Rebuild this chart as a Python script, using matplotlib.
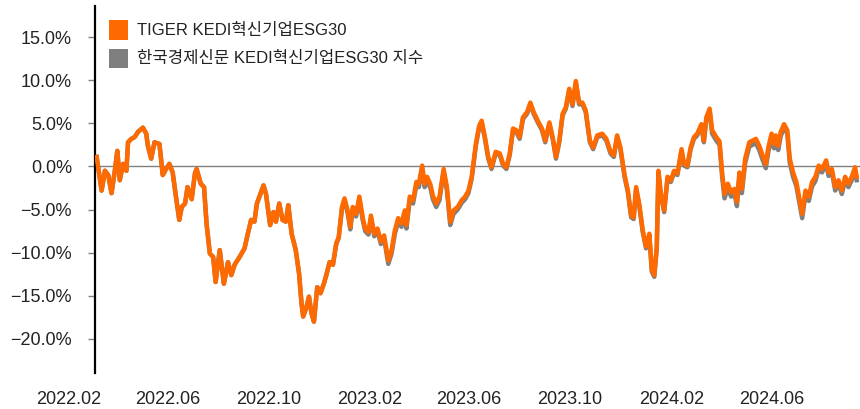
import matplotlib
matplotlib.use("Agg")
import matplotlib.pyplot as plt
from matplotlib.patches import Rectangle
from matplotlib.transforms import blended_transform_factory
import pandas as pd

plt.rcParams['font.family'] = ['Liberation Sans', 'Noto Sans CJK KR', 'DejaVu Sans']

# ---- data ----
start_date = "2022-03-07"
days = [0, 6, 10, 14, 18, 22, 25, 28, 32, 36, 38, 42, 46, 50, 56, 60, 62, 66, 70, 76,
        80, 84, 88, 92, 96, 100, 103, 107, 110, 115, 119, 121, 126, 130, 133, 137, 141, 144, 149, 154,
        159, 163, 167, 173, 179, 183, 187, 191, 194, 197, 202, 205, 210, 214, 217, 221, 225, 229, 232, 236,
        241, 245, 248, 250, 254, 257, 260, 263, 267, 271, 275, 278, 282, 286, 290, 293, 297, 300, 304, 307,
        310, 314, 318, 322, 325, 329, 332, 336, 340, 344, 348, 351, 353, 357, 361, 365, 369, 373, 375, 379,
        383, 387, 390, 394, 397, 400, 404, 407, 411, 415, 420, 424, 428, 432, 437, 442, 446, 450, 454, 459,
        463, 466, 470, 474, 478, 483, 488, 492, 496, 500, 504, 508, 512, 516, 521, 525, 529, 534, 539, 543,
        548, 552, 556, 560, 564, 568, 572, 576, 580, 584, 588, 592, 597, 601, 606, 612, 617, 622, 626, 630,
        634, 639, 643, 647, 650, 653, 657, 661, 665, 669, 672, 675, 678, 680, 683, 687, 691, 695, 699, 703,
        708, 711, 715, 719, 723, 727, 732, 735, 738, 742, 745, 750, 754, 757, 760, 764, 768, 772, 775, 778,
        781, 785, 790, 794, 798, 802, 806, 810, 813, 817, 820, 822, 825, 828, 832, 836, 839, 843, 847, 851,
        854, 858, 862, 866, 870, 874, 878, 883, 886, 890, 894, 898, 902, 906, 910, 914, 918, 920]

tiger_etf = [1.1, -2.8, -0.5, -1.0, -3.1, -0.5, 1.8, -1.6, 0.3, -0.5, 2.8, 3.2, 3.4, 4.0, 4.5, 3.8, 2.4, 0.9, 2.8, 2.6,
             -1.0, -0.3, 0.3, -0.7, -3.5, -6.2, -4.7, -4.3, -2.4, -3.8, -0.8, -0.3, -2.0, -2.4, -6.6, -10.1, -10.5, -13.4, -9.7, -13.6,
             -11.1, -12.6, -11.4, -10.5, -9.5, -7.8, -6.2, -6.4, -4.3, -3.5, -2.2, -3.2, -6.8, -5.3, -6.4, -4.3, -6.2, -6.4, -4.5, -7.8,
             -9.7, -12.4, -15.9, -17.4, -16.3, -15.1, -17.0, -18.0, -14.0, -14.7, -13.6, -12.6, -11.1, -11.4, -8.9, -8.2, -4.7, -3.7, -5.2, -7.0,
             -4.7, -5.5, -3.5, -5.9, -7.2, -7.6, -5.7, -7.8, -7.2, -8.7, -8.0, -9.7, -10.9, -9.7, -7.4, -6.0, -6.6, -5.1, -6.8, -3.5,
             -3.9, -1.8, -2.0, 0.1, -2.0, -1.2, -2.1, -3.4, -4.3, -3.5, -0.3, -2.4, -6.4, -5.1, -4.7, -3.9, -3.5, -2.8, -1.2, 2.6,
             4.7, 5.3, 3.4, 1.1, -0.1, 1.7, 1.5, 0.3, -0.1, 1.5, 4.4, 4.2, 3.4, 5.7, 6.3, 7.4, 6.3, 5.3, 4.4, 3.0,
             5.1, 3.4, 1.1, 3.0, 6.1, 6.9, 9.0, 7.2, 9.9, 7.4, 7.4, 6.5, 3.0, 2.2, 3.6, 3.8, 3.2, 1.7, 1.3, 3.6,
             2.2, -1.0, -2.8, -5.7, -5.9, -2.4, -4.5, -7.4, -9.3, -7.8, -12.0, -12.6, -9.3, -0.5, -3.2, -5.1, -1.2, -1.6, -0.5, -0.8,
             2.0, 0.3, 0.1, 2.2, 3.4, 3.8, 4.9, 3.0, 5.7, 6.7, 4.2, 3.4, 2.9, -0.6, -3.2, -2.0, -3.0, -2.6, -4.1, -0.7,
             -2.6, 0.9, 2.8, 3.0, 3.2, 2.4, 1.3, 0.3, 2.2, 3.8, 2.6, 3.6, 2.4, 4.0, 4.9, 4.2, 0.9, -0.7, -1.8, -3.9,
             -5.5, -2.8, -3.5, -1.8, -1.2, 0.1, -0.3, 0.7, -0.7, -0.3, -2.4, -1.6, -2.8, -1.2, -2.0, -1.2, -0.1, -1.2]

kedi_index = [1.1, -2.8, -0.5, -1.0, -3.1, -0.5, 1.8, -1.6, 0.3, -0.5, 2.8, 3.2, 3.4, 4.0, 4.5, 3.8, 2.4, 0.9, 2.8, 2.6,
              -1.0, -0.3, 0.3, -0.7, -3.5, -6.2, -4.7, -4.3, -2.4, -3.8, -0.8, -0.3, -2.0, -2.4, -6.6, -10.1, -10.5, -13.4, -9.7, -13.6,
              -11.1, -12.6, -11.4, -10.5, -9.5, -7.8, -6.2, -6.4, -4.3, -3.5, -2.2, -3.2, -6.8, -5.3, -6.4, -4.3, -6.2, -6.4, -4.5, -7.8,
              -9.7, -12.4, -15.9, -17.4, -16.3, -15.1, -17.0, -18.0, -14.0, -14.7, -13.6, -12.6, -11.1, -11.4, -9.0, -8.3, -4.8, -3.9, -5.5, -7.3,
              -5.0, -5.8, -3.8, -6.2, -7.5, -7.9, -6.0, -8.1, -7.5, -9.0, -8.4, -10.1, -11.3, -10.1, -7.8, -6.4, -7.0, -5.5, -7.2, -3.9,
              -4.3, -2.2, -2.4, -0.2, -2.4, -1.6, -2.5, -3.8, -4.7, -3.9, -0.6, -2.8, -6.8, -5.5, -5.0, -4.2, -3.8, -3.1, -1.4, 2.4,
              4.5, 5.1, 3.2, 0.9, -0.3, 1.5, 1.3, 0.1, -0.3, 1.3, 4.2, 4.0, 3.2, 5.5, 6.1, 7.2, 6.1, 5.1, 4.2, 2.8,
              4.9, 3.2, 0.9, 2.8, 5.9, 6.7, 8.8, 7.0, 9.7, 7.2, 7.2, 6.3, 2.8, 2.0, 3.4, 3.6, 3.0, 1.5, 1.1, 3.4,
              2.0, -1.2, -3.0, -5.9, -6.1, -2.6, -4.7, -7.6, -9.5, -8.0, -12.2, -12.8, -9.5, -0.7, -3.4, -5.3, -1.4, -1.8, -0.7, -1.0,
              1.8, 0.1, -0.1, 2.0, 3.2, 3.6, 4.7, 2.8, 5.4, 6.4, 3.8, 3.0, 2.5, -1.1, -3.7, -2.5, -3.5, -3.1, -4.6, -1.2,
              -3.1, 0.4, 2.3, 2.5, 2.7, 1.9, 0.8, -0.2, 1.7, 3.3, 2.1, 3.1, 1.9, 3.5, 4.5, 3.8, 0.4, -1.2, -2.3, -4.4,
              -6.0, -3.3, -4.0, -2.3, -1.7, -0.3, -0.7, 0.3, -1.1, -0.7, -2.8, -2.0, -3.2, -1.6, -2.4, -1.6, -0.5, -1.6]

series_names = ["TIGER KEDI혁신기업ESG30", "한국경제신문 KEDI혁신기업ESG30 지수"]
y_ticks = [-20, -15, -10, -5, 0, 5, 10, 15]
y_tick_labels = ["−20.0%", "−15.0%", "−10.0%", "−5.0%", "0.0%", "5.0%", "10.0%", "15.0%"]
x_tick_dates = ["2022-02-01", "2022-06-01", "2022-10-01", "2023-02-01",
                "2023-06-01", "2023-10-01", "2024-02-01", "2024-06-01"]
x_tick_labels = ["2022.02", "2022.06", "2022.10", "2023.02",
                 "2023.06", "2023.10", "2024.02", "2024.06"]

# ---- styling ----
ORANGE = "#FF6A00"
GRAY = "#7F7F7F"
TEXT = "#222222"

dates = pd.Timestamp(start_date) + pd.to_timedelta(days, unit="D")

W, H = 860, 409
fig = plt.figure(figsize=(W / 100, H / 100), dpi=100)
ax = fig.add_axes([95 / W, 1 - 373 / H, (W - 95) / W, (373 - 6) / H])

ax.axhline(0, color="#808080", lw=1.0, zorder=1)
ax.plot(dates, kedi_index, color=GRAY, lw=3.2, solid_joinstyle="round", zorder=2)
ax.plot(dates, tiger_etf, color=ORANGE, lw=3.2, solid_joinstyle="round", zorder=3)

ax.set_ylim(-23.95, 18.6)
ax.set_xlim(pd.Timestamp("2022-03-05"), pd.Timestamp("2024-09-16"))

ax.set_yticks(y_ticks)
ax.set_yticklabels(y_tick_labels, fontsize=13, color=TEXT)
ax.tick_params(axis="y", length=5, width=1, color="#808080", pad=11.5)
ax.set_xticks([])

for s in ["top", "right", "bottom"]:
    ax.spines[s].set_visible(False)
ax.spines["left"].set_color("black")
ax.spines["left"].set_linewidth(1.6)

# x labels (month labels, placed at their dates)
tr = blended_transform_factory(ax.transData, fig.transFigure)
for d, lab in zip(x_tick_dates, x_tick_labels):
    ax.text(pd.Timestamp(d), 1 - 391 / H, lab, transform=tr, ha="center", va="top",
            fontsize=13, color=TEXT, clip_on=False)

# legend (manual)
for i, (name, col) in enumerate(zip(series_names, [ORANGE, GRAY])):
    yc = 30 + i * 28.5
    fig.patches.append(Rectangle((109 / W, 1 - (yc + 9.5) / H), 19 / W, 19 / H,
                                 transform=fig.transFigure, facecolor=col, edgecolor="none"))
    fig.text(137 / W, 1 - yc / H, name, ha="left", va="center", fontsize=12, color=TEXT)

fig.savefig("out.png", dpi=100)
